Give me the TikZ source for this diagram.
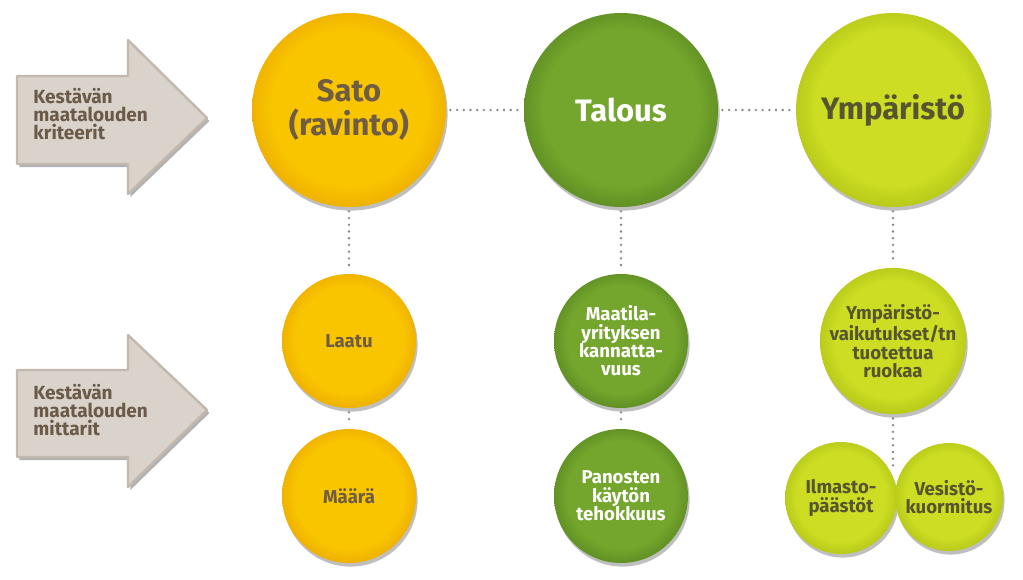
\documentclass[tikz,border=0pt]{standalone}
\usepackage{fontspec}
\setmainfont{Fira Sans}
\usetikzlibrary{shadows}
\definecolor{satoIn}{HTML}{F9C500}
\definecolor{satoOut}{HTML}{F0B300}
\definecolor{talIn}{HTML}{74A62D}
\definecolor{talOut}{HTML}{629224}
\definecolor{ympIn}{HTML}{CCDD24}
\definecolor{ympOut}{HTML}{BACB1A}
\definecolor{satoText}{HTML}{6E5C44}
\definecolor{ympText}{HTML}{57552F}
\definecolor{arrowFill}{HTML}{DAD3CC}
\definecolor{arrowEdge}{HTML}{C2B8AE}
\definecolor{arrowText}{HTML}{6B5A48}
\definecolor{dotGray}{HTML}{858585}
\pgfdeclareradialshading{satoShade}{\pgfpoint{0bp}{1bp}}{color(0bp)=(satoIn); color(20bp)=(satoIn); color(25bp)=(satoOut); color(50bp)=(satoOut)}
\pgfdeclareradialshading{talShade}{\pgfpoint{0bp}{1bp}}{color(0bp)=(talIn); color(20bp)=(talIn); color(25bp)=(talOut); color(50bp)=(talOut)}
\pgfdeclareradialshading{ympShade}{\pgfpoint{0bp}{1bp}}{color(0bp)=(ympIn); color(20bp)=(ympIn); color(25bp)=(ympOut); color(50bp)=(ympOut)}
\tikzset{
  ball/.style={circle, inner sep=0pt, align=center,
    drop shadow={shadow xshift=0.8pt, shadow yshift=-1.8pt, opacity=0.25, fill=black}},
  bigball/.style={ball, minimum size=97pt, font=\fontsize{15.5}{17}\selectfont\bfseries},
  smallball/.style={ball, minimum size=67pt, font=\fontsize{9.3}{9.2}\selectfont\bfseries},
  sato/.style={shading=satoShade, text=satoText},
  talous/.style={shading=talShade, text=white},
  ymp/.style={shading=ympShade, text=ympText},
  dotconn/.style={draw=dotGray, line width=1.3pt, dash pattern=on 0pt off 3.35pt,
    line cap=round, shorten >=2pt, shorten <=2pt},
  arrowshape/.style={fill=arrowFill, draw=arrowEdge, line width=1.2pt, line join=round,
    drop shadow={shadow xshift=1.2pt, shadow yshift=-1.5pt, opacity=0.3, fill=black}},
  arrowtext/.style={anchor=west, align=left, inner sep=0pt, text=arrowText,
    font=\fontsize{9.5}{8.9}\selectfont\bfseries}
}
\begin{document}
\begin{tikzpicture}[x=0.5pt,y=-0.5pt]
\useasboundingbox[fill=white] (0,0) rectangle (1023,579);

% arrows
\path[arrowshape] (17,76) -- (128,76) -- (128,40) -- (207,118) -- (128,194) -- (128,164) -- (17,164) -- cycle;
\node[arrowtext] (krit) at (33,114) {Kestävän\\maatalouden\\kriteerit};
\path[arrowshape] (17,370) -- (128,370) -- (128,335) -- (207,410) -- (128,487) -- (128,457) -- (17,457) -- cycle;
\node[arrowtext] (mitt) at (33,410) {Kestävän\\maatalouden\\mittarit};

% big balls
\node[bigball, sato] (satoN) at (349,110) {Sato\\(ravinto)};
\node[bigball, talous] (talN) at (621,110) {Talous};
\node[bigball, ymp] (ympN) at (893,110) {Ympäristö};

% small balls
\node[smallball, sato] (laatu) at (349,341) {Laatu};
\node[smallball, sato] (maara) at (349,496) {Määrä};
\node[smallball, talous] (maatila) at (621,341) {Maatila-\\yrityksen\\kannatta-\\vuus};
\node[smallball, talous] (panos) at (621,496) {Panosten\\käytön\\tehokkuus};
\node[smallball, ymp] (vaik) at (893,341) {Ympäristö-\\vaikutukset/tn\\tuotettua\\ruokaa};
\node[ball, ymp, minimum size=56pt, font=\fontsize{9.3}{9.2}\selectfont\bfseries] (ilma) at (841,498) {Ilmasto-\\päästöt};
\node[ball, ymp, minimum size=54pt, font=\fontsize{9.3}{9.2}\selectfont\bfseries] (vesi) at (949,497) {Vesistö-\\kuormitus};

\coordinate (join) at (893,470);

% dotted connectors
\draw[dotconn] (satoN) -- (talN);
\draw[dotconn] (talN) -- (ympN);
\draw[dotconn] (satoN) -- (laatu);
\draw[dotconn] (laatu) -- (maara);
\draw[dotconn] (talN) -- (maatila);
\draw[dotconn] (maatila) -- (panos);
\draw[dotconn] (ympN) -- (vaik);
\draw[dotconn, shorten >=0pt] (vaik) -- (join);
\end{tikzpicture}
\end{document}
